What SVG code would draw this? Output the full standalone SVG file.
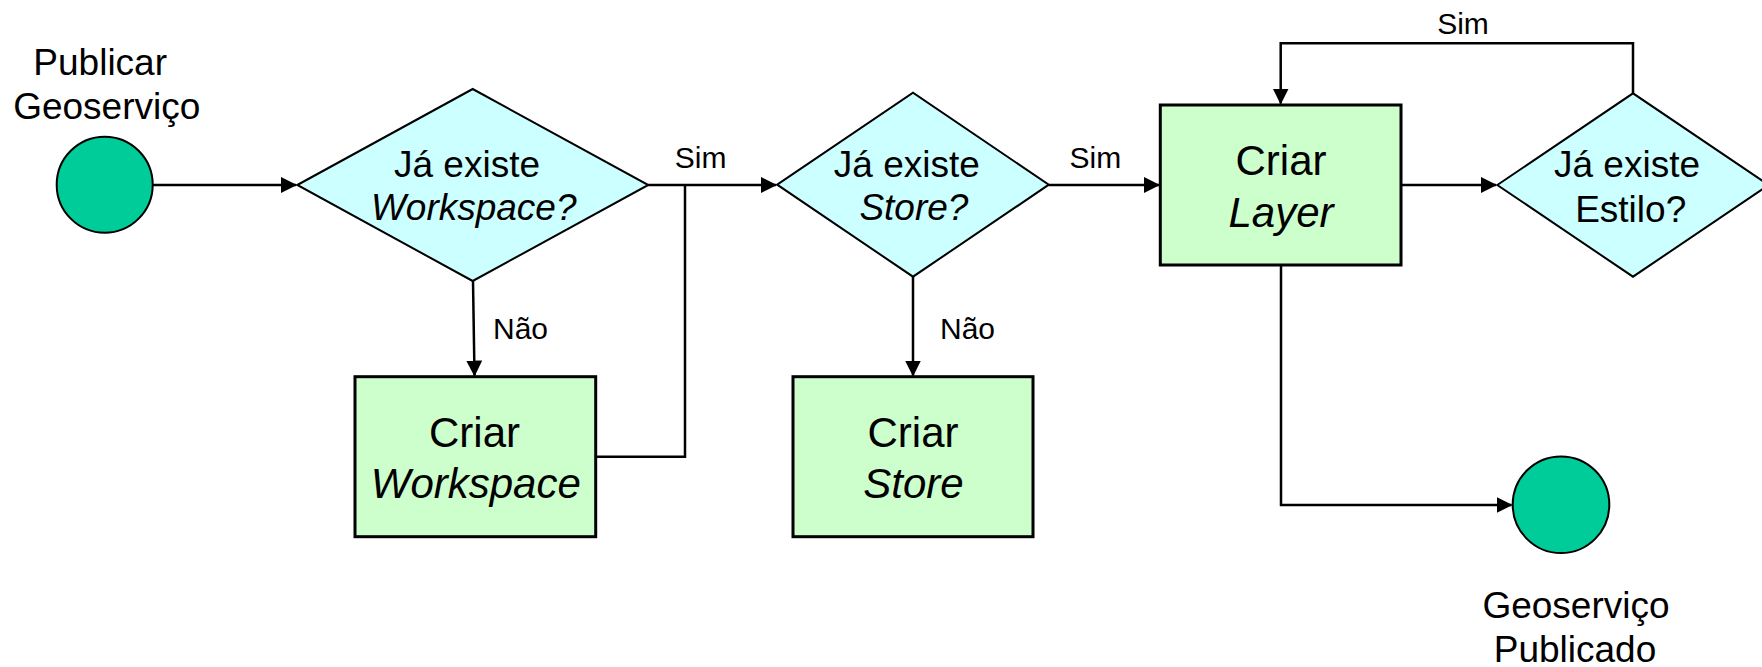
<svg xmlns="http://www.w3.org/2000/svg" width="1762" height="667" viewBox="0 0 1762 667">
<style>
text{font-family:"Liberation Sans",Arial,sans-serif;fill:#000}
.t37{font-size:37px;text-anchor:middle}
.t41{font-size:42px;text-anchor:middle}
.lbl{font-size:30px}
.it{font-style:italic}
.term{fill:#00CC99;stroke:#000;stroke-width:2}
.dec{fill:#CCFFFF;stroke:#000;stroke-width:2}
.proc{fill:#CCFFCC;stroke:#000;stroke-width:3}
.edge{fill:none;stroke:#000;stroke-width:2.5}
</style>
<defs>
<marker id="arr" markerUnits="userSpaceOnUse" markerWidth="16" markerHeight="16" viewBox="0 0 16 16" refX="15" refY="8" orient="auto">
<path d="M0,0 L16,8 L0,16 Z" fill="#000"/>
</marker>
</defs>
<rect width="1762" height="667" fill="#fff"/>
<g id="connectors">
<path class="edge" d="M152.7,185 H296" marker-end="url(#arr)"/>
<path class="edge" d="M648.3,185 H776" marker-end="url(#arr)"/>
<path class="edge" d="M473,281 L474.5,375.5" marker-end="url(#arr)"/>
<path class="edge" d="M595.7,456.7 H685 V185"/>
<path class="edge" d="M913,276.7 V375.5" marker-end="url(#arr)"/>
<path class="edge" d="M1048.8,185 H1159" marker-end="url(#arr)"/>
<path class="edge" d="M1401,185 H1496" marker-end="url(#arr)"/>
<path class="edge" d="M1633,93.3 V43.3 H1280.7 V103.5" marker-end="url(#arr)"/>
<path class="edge" d="M1281,265 V505 H1511.5" marker-end="url(#arr)"/>
<text class="lbl" x="700.7" y="168" text-anchor="middle">Sim</text>
<text class="lbl" x="1095.4" y="168" text-anchor="middle">Sim</text>
<text class="lbl" x="1463" y="34.3" text-anchor="middle">Sim</text>
<text class="lbl" x="493" y="339.3">Não</text>
<text class="lbl" x="940" y="339.3">Não</text>
</g>
<g id="start">
<circle class="term" cx="104.7" cy="184.7" r="48"/>
<text class="t37" x="100.2" y="75">Publicar</text>
<text class="t37" x="106.7" y="119.3">Geoserviço</text>
</g>
<g id="dec-workspace">
<path class="dec" d="M297.3,185 L472.7,89 L648.3,185 L472.7,281 Z"/>
<text class="t37" x="467" y="176.7">Já existe</text>
<text class="t37 it" x="473.7" y="220">Workspace?</text>
</g>
<g id="criar-workspace">
<rect class="proc" x="355" y="376.7" width="240.7" height="160"/>
<text class="t41" x="474.5" y="446.7">Criar</text>
<text class="t41 it" x="475.8" y="498.3">Workspace</text>
</g>
<g id="dec-store">
<path class="dec" d="M777.2,184.7 L913,92.7 L1048.8,184.7 L913,276.7 Z"/>
<text class="t37" x="906.8" y="176.7">Já existe</text>
<text class="t37 it" x="913.9" y="220">Store?</text>
</g>
<g id="criar-store">
<rect class="proc" x="793" y="376.7" width="240" height="160"/>
<text class="t41" x="913" y="446.7">Criar</text>
<text class="t41 it" x="913.5" y="498.3">Store</text>
</g>
<g id="criar-layer">
<rect class="proc" x="1160.3" y="105" width="240.7" height="160"/>
<text class="t41" x="1281" y="175">Criar</text>
<text class="t41 it" x="1281" y="226.7">Layer</text>
</g>
<g id="dec-estilo">
<path class="dec" d="M1497.3,185 L1633,93.3 L1768.7,185 L1633,276.7 Z"/>
<text class="t37" x="1627" y="177.3">Já existe</text>
<text class="t37" x="1630.7" y="221.7">Estilo?</text>
</g>
<g id="end">
<circle class="term" cx="1561" cy="504.7" r="48.3"/>
<text class="t37" x="1576" y="618.3">Geoserviço</text>
<text class="t37" x="1575" y="661.7">Publicado</text>
</g>
</svg>
